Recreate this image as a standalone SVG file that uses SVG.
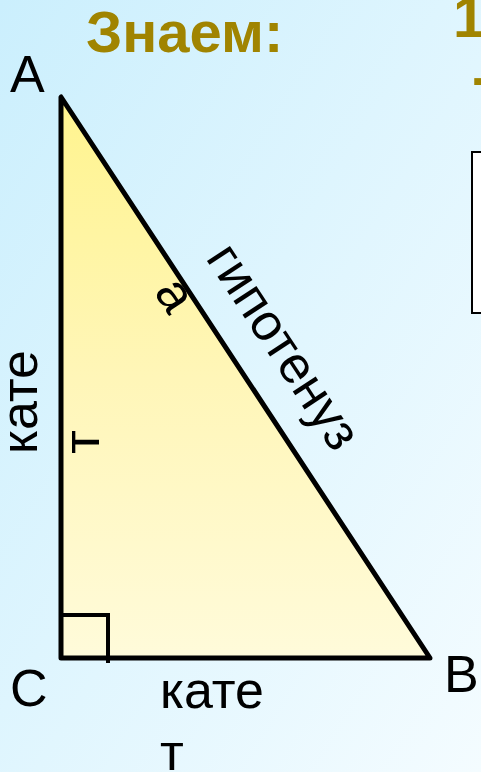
<svg xmlns="http://www.w3.org/2000/svg" width="481" height="772" viewBox="0 0 481 772">
<defs>
<linearGradient id="bg" x1="0" y1="0" x2="1" y2="1">
<stop offset="0" stop-color="#cbeffd"/>
<stop offset="1" stop-color="#f4fcff"/>
</linearGradient>
<linearGradient id="tri" x1="0" y1="0" x2="0" y2="1">
<stop offset="0" stop-color="#fff48e"/>
<stop offset="0.5" stop-color="#fff6b8"/>
<stop offset="1" stop-color="#fffbda"/>
</linearGradient>
<style>
.lbl{font-family:"Liberation Sans",Arial,sans-serif;font-size:52px;fill:#000}
.ttl{font-family:"Liberation Sans",Arial,sans-serif;font-size:58px;font-weight:bold;fill:#a08400}
</style>
</defs>
<rect x="0" y="0" width="481" height="772" fill="url(#bg)"/>
<g id="title">
<text class="ttl" x="86" y="52">Знаем:</text>
<text class="ttl" x="453" y="37">1</text>
<text class="ttl" x="472" y="97">-</text>
</g>
<g id="box">
<rect x="472" y="152" width="20" height="161" fill="#fff" stroke="#000" stroke-width="2"/>
</g>
<g id="triangle">
<polygon points="61,97 61,658 430,658" fill="url(#tri)" stroke="#000" stroke-width="5" stroke-linejoin="round"/>
</g>
<g id="connectors">
<polyline points="61,615 108,615 108,663" fill="none" stroke="#000" stroke-width="4"/>
</g>
<g id="labels">
<text class="lbl" x="10" y="92">A</text>
<text class="lbl" x="10" y="706">C</text>
<text class="lbl" x="444" y="692">B</text>
<text class="lbl" x="160" y="708">кате<tspan x="160" dy="62">т</tspan></text>
<text class="lbl" transform="translate(37,454) rotate(-90)">кате<tspan x="0" dy="62">т</tspan></text>
<text class="lbl" transform="translate(205,258) rotate(56.66)">гипотенуз<tspan x="0" dy="62">а</tspan></text>
</g>
</svg>
